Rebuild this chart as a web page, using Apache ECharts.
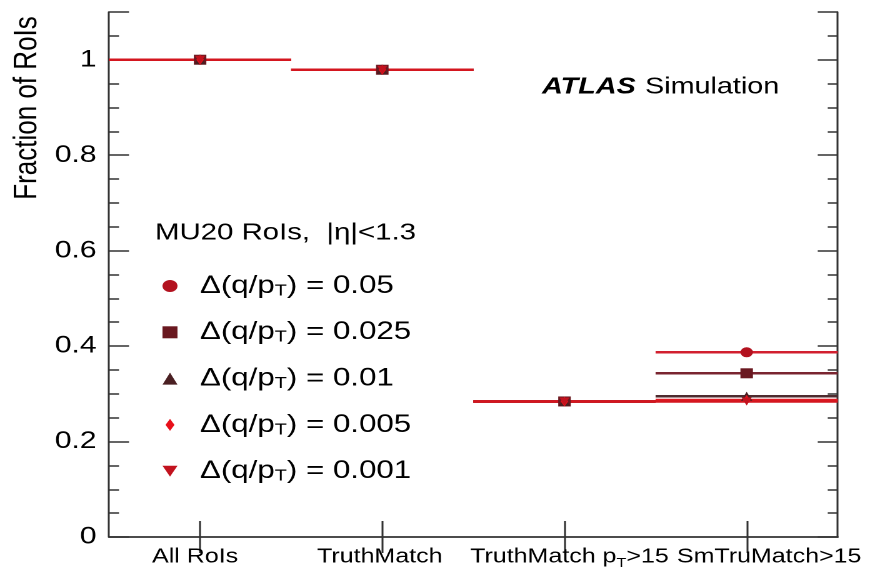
<!DOCTYPE html>
<html>
<head>
<meta charset="utf-8">
<script src="https://cdn.jsdelivr.net/npm/echarts@6/dist/echarts.min.js"></script>
<style>
  html, body { margin: 0; padding: 0; background: #fff; }
  #wrap { width: 869px; height: 570px; overflow: hidden; }
  /* chart is laid out narrower and widened horizontally for the ROOT-style wide glyphs */
  #chart { width: 695.2px; height: 570px; transform: scaleX(1.25); transform-origin: 0 0; }
</style>
</head>
<body>
<div id="wrap"><div id="chart"></div></div>
<script>
// Selection steps
const categories = ['All RoIs', 'TruthMatch', 'TruthMatch pT>15', 'SmTruMatch>15'];

// Fraction of RoIs surviving each step, per Δ(q/pT) window
const dq0050 = [1.0, 0.979, 0.284, 0.387];
const dq0025 = [1.0, 0.979, 0.284, 0.343];
const dq0010 = [1.0, 0.979, 0.284, 0.295];
const dq0005 = [1.0, 0.979, 0.284, 0.287];
const dq0001 = [1.0, 0.979, 0.284, 0.284];

const seriesNames = ['Δ(q/pT) = 0.05', 'Δ(q/pT) = 0.025', 'Δ(q/pT) = 0.01', 'Δ(q/pT) = 0.005', 'Δ(q/pT) = 0.001'];

const FONT = 'Liberation Sans, Arial, Helvetica, sans-serif';
const AXIS_COLOR = '#333';

const DIAMOND = 'path://M3,0 L6,5 L3,10 L0,5 Z';
const DOWN_TRI = 'path://M0,0 L10,0 L5,9 Z';

const styles = [
  { data: dq0050, marker: '#b3121f', line: '#d2202f', symbol: 'circle', legendIcon: 'circle', size: 10, rotate: 0 },
  { data: dq0025, marker: '#6a1820', line: '#7a2530', symbol: 'rect', legendIcon: 'rect', size: 10, rotate: 0 },
  { data: dq0010, marker: '#4a1f22', line: '#4e2a2e', symbol: 'triangle', legendIcon: 'triangle', size: 9, rotate: 0 },
  { data: dq0005, marker: '#e8101a', line: '#e01a22', symbol: 'diamond', legendIcon: DIAMOND, size: [6, 10], rotate: 0 },
  { data: dq0001, marker: '#c2121e', line: '#d4161f', symbol: DOWN_TRI, legendIcon: DOWN_TRI, size: [8, 8], rotate: 0 }
];

const series = [];
// horizontal bin-width bars
styles.forEach((s, i) => {
  series.push({
    type: 'custom',
    name: 'bar' + i,
    xAxisIndex: 0,
    yAxisIndex: 0,
    z: 2,
    silent: true,
    data: s.data.map((v, k) => [k, v]),
    renderItem: function (params, api) {
      const c = api.coord([api.value(0), api.value(1)]);
      const w = api.size([1, 0])[0];
      return {
        type: 'line',
        shape: { x1: c[0] - w / 2, y1: c[1], x2: c[0] + w / 2, y2: c[1] },
        style: { stroke: s.line, lineWidth: 2.5 }
      };
    }
  });
});
// markers
styles.forEach((s, i) => {
  series.push({
    type: 'scatter',
    name: seriesNames[i],
    xAxisIndex: 0,
    yAxisIndex: 0,
    z: 3,
    symbol: s.symbol,
    symbolSize: s.size,
    symbolRotate: s.rotate,
    itemStyle: { color: s.marker, opacity: 1 },
    data: s.data
  });
});

const subFmt = v => v.replace('pT', 'p{sub|T}');

// category labels are nudged sideways the way ROOT places them
const labelShift = [-4, -2, 4, 18];
const xData = categories.map((c, i) => ({
  value: c,
  textStyle: { padding: labelShift[i] >= 0 ? [0, 0, 0, 2 * labelShift[i]] : [0, -2 * labelShift[i], 0, 0] }
}));

const majorY = (pos, showLabel) => ({
  type: 'value', position: pos, min: 0, max: 1.1, interval: 0.2,
  axisLine: { show: true, lineStyle: { color: AXIS_COLOR, width: 1.5 } },
  axisTick: { show: true, inside: true, length: 16, lineStyle: { color: AXIS_COLOR, width: 1.5 } },
  axisLabel: {
    show: showLabel, margin: 10, color: '#000', fontSize: 24, fontFamily: FONT,
    formatter: v => (v > 1.05 ? '' : String(+v.toFixed(1)))
  },
  splitLine: { show: false }
});
const minorY = (pos) => ({
  type: 'value', position: pos, min: 0, max: 1.1, interval: 0.05,
  axisLine: { show: false },
  axisTick: { show: true, inside: true, length: 8, lineStyle: { color: AXIS_COLOR, width: 1.5 } },
  axisLabel: { show: false },
  splitLine: { show: false }
});

const option = {
  backgroundColor: '#fff',
  animation: false,
  grid: { left: 87.2, right: 24.8, top: 12, bottom: 33 },
  xAxis: [
    {
      type: 'category', position: 'bottom', data: xData, boundaryGap: true,
      axisLine: { show: true, lineStyle: { color: AXIS_COLOR, width: 1.5 } },
      axisTick: { show: true, inside: true, alignWithLabel: true, length: 16, lineStyle: { color: AXIS_COLOR, width: 1.5 } },
      axisLabel: {
        margin: 7, color: '#000', fontSize: 20, lineHeight: 26, fontFamily: FONT, interval: 0,
        formatter: subFmt,
        rich: { sub: { fontSize: 13, lineHeight: 13, verticalAlign: 'bottom', fontFamily: FONT, color: '#000' } }
      },
      splitLine: { show: false }
    },
    {
      type: 'category', position: 'top', data: categories, boundaryGap: true,
      axisLine: { show: true, lineStyle: { color: AXIS_COLOR, width: 1.5 } },
      axisTick: { show: true, inside: true, alignWithLabel: true, length: 16, lineStyle: { color: AXIS_COLOR, width: 1.5 } },
      axisLabel: { show: false },
      splitLine: { show: false }
    }
  ],
  yAxis: [majorY('left', true), minorY('left'), majorY('right', false), minorY('right')],
  legend: {
    orient: 'vertical',
    left: 125,
    top: 268,
    itemWidth: 12,
    itemHeight: 12,
    itemGap: 20.3,
    data: seriesNames.map((n, i) => ({ name: n, icon: styles[i].legendIcon })),
    formatter: n => '{gap| }' + subFmt(n),
    textStyle: {
      color: '#000', fontSize: 25, lineHeight: 26, fontFamily: FONT,
      rich: {
        gap: { width: 13, fontSize: 25, lineHeight: 26 },
        sub: { fontSize: 16, lineHeight: 16, verticalAlign: 'bottom', fontFamily: FONT, color: '#000' }
      }
    }
  },
  graphic: [
    {
      type: 'text', x: 21.6, y: 108, rotation: Math.PI / 2,
      style: { text: 'Fraction of RoIs', font: '26px ' + FONT, fill: '#000', align: 'center', verticalAlign: 'middle' }
    },
    {
      type: 'text', x: 124, y: 233,
      style: { text: 'MU20 RoIs,  |η|<1.3', font: '23.5px ' + FONT, fill: '#000', align: 'left', verticalAlign: 'middle' }
    },
    {
      type: 'text', x: 433.6, y: 87,
      style: { text: 'ATLAS', font: 'italic bold 23px ' + FONT, fill: '#000', align: 'left', verticalAlign: 'middle' }
    },
    {
      type: 'text', x: 516, y: 87,
      style: { text: 'Simulation', font: '23px ' + FONT, fill: '#000', align: 'left', verticalAlign: 'middle' }
    }
  ],
  series: series
};

const chart = echarts.init(document.getElementById('chart'), null, { renderer: 'canvas', devicePixelRatio: 2 });
chart.setOption(option);
</script>
</body>
</html>
